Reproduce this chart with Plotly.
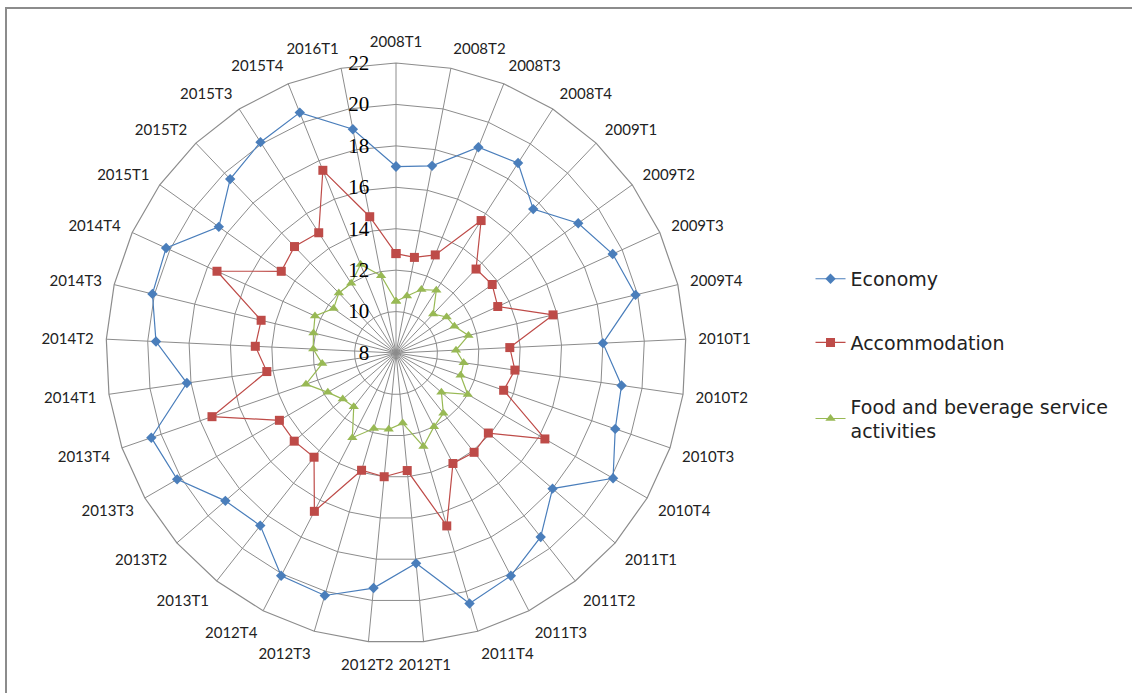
import plotly.graph_objects as go

# Quarters 2008T1 .. 2016T1
quarters = [f"{y}T{q}" for y in range(2008, 2016) for q in range(1, 5)] + ["2016T1"]

economy = [17.0, 17.2, 18.7, 18.9, 17.6, 18.8, 19.5, 19.9,
           18.0, 19.0, 19.2, 20.1, 18.0, 19.3, 20.1, 20.6,
           18.2, 19.4, 20.2, 20.1, 18.6, 18.9, 20.2, 20.5,
           18.2, 19.6, 20.1, 20.2, 18.5, 19.6, 20.1, 20.5,
           19.0]

accommodation = [12.8, 12.7, 13.1, 15.6, 13.6, 13.7, 13.4, 15.8,
                 13.5, 13.8, 13.5, 16.3, 13.9, 14.1, 14.0, 16.7,
                 13.7, 14.0, 13.9, 16.6, 14.4, 14.5, 14.5, 17.4,
                 14.3, 14.8, 14.7, 17.5, 14.8, 15.1, 14.9, 17.5,
                 14.7]

food_beverage = [10.5, 10.8, 11.3, 11.6, 10.6, 11.0, 11.1, 11.6,
                 10.9, 11.3, 11.3, 12.0, 10.9, 11.7, 12.0, 12.7,
                 11.4, 11.7, 11.8, 12.6, 11.3, 11.4, 11.8, 12.6,
                 11.6, 12.0, 12.1, 12.3, 11.7, 12.0, 12.0, 12.6,
                 11.8]

radial_ticks = [8, 10, 12, 14, 16, 18, 20, 22]

series = [
    ("Economy", economy, "#4A7EBB", "diamond", 8),
    ("Accommodation", accommodation, "#BE4B48", "square", 9),
    ("Food and beverage service<br>activities", food_beverage, "#98B954", "triangle-up", 9),
]

fig = go.Figure()
for i, (name, vals, color, symbol, msize) in enumerate(series):
    fig.add_trace(go.Scatterpolar(
        r=vals + vals[:1],
        theta=quarters + quarters[:1],
        mode="lines+markers",
        name=name,
        legendgroup=f"g{i}",
        line=dict(color=color, width=1.2),
        marker=dict(symbol=symbol, size=msize, color=color,
                    line=dict(width=0)),
    ))

W, H = 1132, 693
cx, cy, R = 396, 353, 290

fig.update_layout(
    width=W, height=H,
    margin=dict(l=0, r=0, t=0, b=0),
    paper_bgcolor="white",
    plot_bgcolor="white",
    polar=dict(
        domain=dict(x=[(cx - R) / W, (cx + R) / W],
                    y=[(H - cy - R) / H, (H - cy + R) / H]),
        bgcolor="white",
        gridshape="linear",
        angularaxis=dict(
            rotation=90, direction="clockwise",
            categoryorder="array", categoryarray=quarters,
            showline=True, linecolor="#8C8C8C", linewidth=1.2,
            showgrid=True, gridcolor="#8C8C8C", gridwidth=1,
            ticks="outside", ticklen=9, tickcolor="rgba(0,0,0,0)",
            tickfont=dict(family="Lato", size=15, color="#222222"),
        ),
        radialaxis=dict(
            range=[8, 22], tickvals=radial_ticks,
            angle=90, tickangle=90, side="counterclockwise",
            showline=False,
            ticks="outside", ticklen=19, tickcolor="rgba(0,0,0,0)",
            showgrid=True, gridcolor="#8C8C8C", gridwidth=1,
            tickfont=dict(family="Liberation Serif", size=21, color="#000000"),
        ),
    ),
    legend=dict(
        x=0.716, y=0.625, xanchor="left", yanchor="top",
        tracegroupgap=36,
        font=dict(family="DejaVu Sans", size=19, color="#222222"),
        bgcolor="rgba(0,0,0,0)",
    ),
    shapes=[
        dict(type="line", xref="paper", yref="paper",
             x0=5 / W, x1=1, y0=1 - 8 / H, y1=1 - 8 / H,
             line=dict(color="#8C8C8C", width=2)),
        dict(type="line", xref="paper", yref="paper",
             x0=6 / W, x1=6 / W, y0=0, y1=1 - 8 / H,
             line=dict(color="#8C8C8C", width=2)),
    ],
)

fig.write_html("out.html")
